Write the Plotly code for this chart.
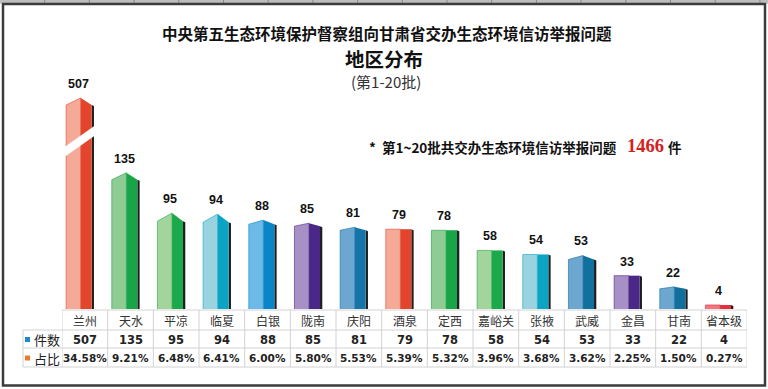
import plotly.graph_objects as go

# ---------------- data ----------------
regions = ["兰州", "天水", "平凉", "临夏", "白银", "陇南", "庆阳", "酒泉",
           "定西", "嘉峪关", "张掖", "武威", "金昌", "甘南", "省本级"]
counts = [507, 135, 95, 94, 88, 85, 81, 79, 78, 58, 54, 53, 33, 22, 4]
shares = ["34.58%", "9.21%", "6.48%", "6.41%", "6.00%", "5.80%", "5.53%", "5.39%",
          "5.32%", "3.96%", "3.68%", "3.62%", "2.25%", "1.50%", "0.27%"]
total = 1466

# ---------------- styles ----------------
light_colors = ["#F5AA98", "#8ECC94", "#A2D49B", "#99D3E0", "#6DB9E8", "#A690C6", "#6DA6CF",
                "#F5AA98", "#8ECC94", "#A2D49B", "#99D3E0", "#6DA6CF", "#A690C6", "#6DA6CF", "#F27680"]
dark_colors = ["#E2452B", "#17A548", "#1BA94B", "#0BA4C4", "#0A86C8", "#4B2888", "#1675A8",
               "#E2452B", "#17A548", "#1BA94B", "#0BA4C4", "#12709F", "#4B2888", "#12709F", "#E3303F"]
roofs = [7, 7, 8, 8, 4, 3, 3, 0, 0, 0, 0, 4, 0, 2, 0]
CAP = 209            # axis-break display height for the tallest bar
BREAK_LO = 150
L, M, R, S = -0.41, -0.09, 0.15, 0.20

W, H = 768, 389
def px(x):
    return x / W
def py(y):
    return 1 - y / H

fig = go.Figure()

for i, v in enumerate(counts):
    h = min(v, CAP)
    r = roofs[i]
    fig.add_trace(go.Scatter(
        x=[i + R, i + S, i + S, i + R], y=[0, 0, h - r - 1, h - r],
        fill="toself", fillcolor="#1E1E1E", line=dict(width=0), mode="lines",
        hoverinfo="skip", showlegend=False))
    fig.add_trace(go.Scatter(
        x=[i + L, i + L, i + M, i + M], y=[0, h - r, h, 0],
        fill="toself", fillcolor=light_colors[i], line=dict(width=0.6, color=dark_colors[i]),
        mode="lines", hoverinfo="skip", showlegend=False))
    fig.add_trace(go.Scatter(
        x=[i + M, i + M, i + R, i + R], y=[0, h, h - r, 0],
        fill="toself", fillcolor=dark_colors[i], line=dict(width=0), mode="lines",
        hoverinfo="skip", showlegend=False))
    if v > CAP:
        fig.add_trace(go.Scatter(
            x=[i + L - 0.05, i + S + 0.03, i + S + 0.03, i + L - 0.05],
            y=[BREAK_LO, BREAK_LO + 22, BREAK_LO + 32, BREAK_LO + 10],
            fill="toself", fillcolor="white", line=dict(width=0), mode="lines",
            hoverinfo="skip", showlegend=False))

def ann(x, y, text, font, xref="paper", yref="paper", xanchor="center", yanchor="middle", **kw):
    d = dict(x=x, y=y, xref=xref, yref=yref, text=text, showarrow=False,
             xanchor=xanchor, yanchor=yanchor, font=font)
    d.update(kw)
    return d

annotations = []
for i, v in enumerate(counts):
    annotations.append(ann(i + (L + R) / 2, min(v, CAP), str(v),
                           dict(family="Liberation Sans", size=12.5, color="#111111", weight="bold"),
                           xref="x", yref="y", yanchor="bottom", yshift=5))

for i in range(len(regions)):
    annotations.append(ann(i, py(320.5), regions[i],
                           dict(family="Noto Sans CJK SC", size=12, color="#333333"), xref="x"))
    annotations.append(ann(i, py(339.5), str(counts[i]),
                           dict(family="DejaVu Sans", size=11.5, color="#222222", weight="bold"), xref="x"))
    annotations.append(ann(i, py(358), shares[i],
                           dict(family="DejaVu Sans", size=10.5, color="#222222", weight="bold"), xref="x"))

annotations += [
    ann(px(32), py(339.5), "件数", dict(family="Noto Sans CJK SC", size=13, color="#222222"), xanchor="left"),
    ann(px(32), py(358), "占比", dict(family="Noto Sans CJK SC", size=13, color="#222222"), xanchor="left"),
    ann(px(387), py(33), "中央第五生态环境保护督察组向甘肃省交办生态环境信访举报问题",
        dict(family="Noto Sans CJK SC", size=15.5, color="#111111", weight="bold")),
    ann(px(384), py(58), "地区分布",
        dict(family="Noto Sans CJK SC", size=19.5, color="#111111", weight="bold")),
    ann(px(386), py(82), "(第1-20批)",
        dict(family="Noto Sans CJK SC", size=15, color="#333333")),
    ann(px(619), py(147), "*  第1~20批共交办生态环境信访举报问题",
        dict(family="Noto Sans CJK SC", size=13.5, color="#111111", weight="bold"), xanchor="right"),
    ann(px(645), py(146), str(total),
        dict(family="Liberation Serif", size=18.5, color="#D42020", weight="bold")),
    ann(px(675), py(147), "件",
        dict(family="Noto Sans CJK SC", size=13.5, color="#111111", weight="bold")),
]

shapes = []
grid = dict(color="#D2D2D2", width=1)
shapes.append(dict(type="line", xref="x", yref="paper", x0=-0.5, x1=len(regions) - 0.5,
                   y0=py(310), y1=py(310), line=grid))
for yy in (330, 348, 367):
    shapes.append(dict(type="line", xref="paper", yref="paper", x0=px(23), x1=px(747),
                       y0=py(yy), y1=py(yy), line=grid))
shapes.append(dict(type="line", xref="paper", yref="paper", x0=px(23), x1=px(23),
                   y0=py(330), y1=py(367), line=grid))
for k in range(len(regions) + 1):
    shapes.append(dict(type="line", xref="x", yref="paper", x0=k - 0.5, x1=k - 0.5,
                       y0=py(310), y1=py(367), line=grid))
shapes.append(dict(type="rect", xref="paper", yref="paper", x0=px(25), x1=px(30),
                   y0=py(342), y1=py(337), fillcolor="#1A8AC8", line=dict(width=0)))
shapes.append(dict(type="rect", xref="paper", yref="paper", x0=px(25), x1=px(30),
                   y0=py(360.5), y1=py(355.5), fillcolor="#F07828", line=dict(width=0)))
shapes.append(dict(type="rect", xref="paper", yref="paper", x0=0, x1=1, y0=py(3.5), y1=1,
                   fillcolor="#BDBDBD", line=dict(width=0)))
for k in range(1, 18):
    shapes.append(dict(type="line", xref="paper", yref="paper", x0=px(44.7 * k), x1=px(44.7 * k),
                       y0=py(3.5), y1=1, line=dict(color="#8A8A8A", width=1)))
shapes.append(dict(type="rect", xref="paper", yref="paper", x0=px(3), x1=px(765),
                   y0=py(385.5), y1=py(4), line=dict(color="#3C3C3C", width=2.5)))

fig.update_layout(
    width=W, height=H,
    margin=dict(l=0, r=0, t=0, b=0),
    paper_bgcolor="white", plot_bgcolor="white",
    showlegend=False,
    xaxis=dict(domain=[62 / W, 747 / W], range=[-0.5, len(regions) - 0.5], visible=False, fixedrange=True),
    yaxis=dict(domain=[(H - 309) / H, (H - 90) / H], range=[0, 219 / 1.01], visible=False, fixedrange=True),
    annotations=annotations,
    shapes=shapes,
)

fig.write_html("out.html", config={"displayModeBar": False},
               post_script="document.body.style.margin='0';document.body.style.overflow='hidden';")
